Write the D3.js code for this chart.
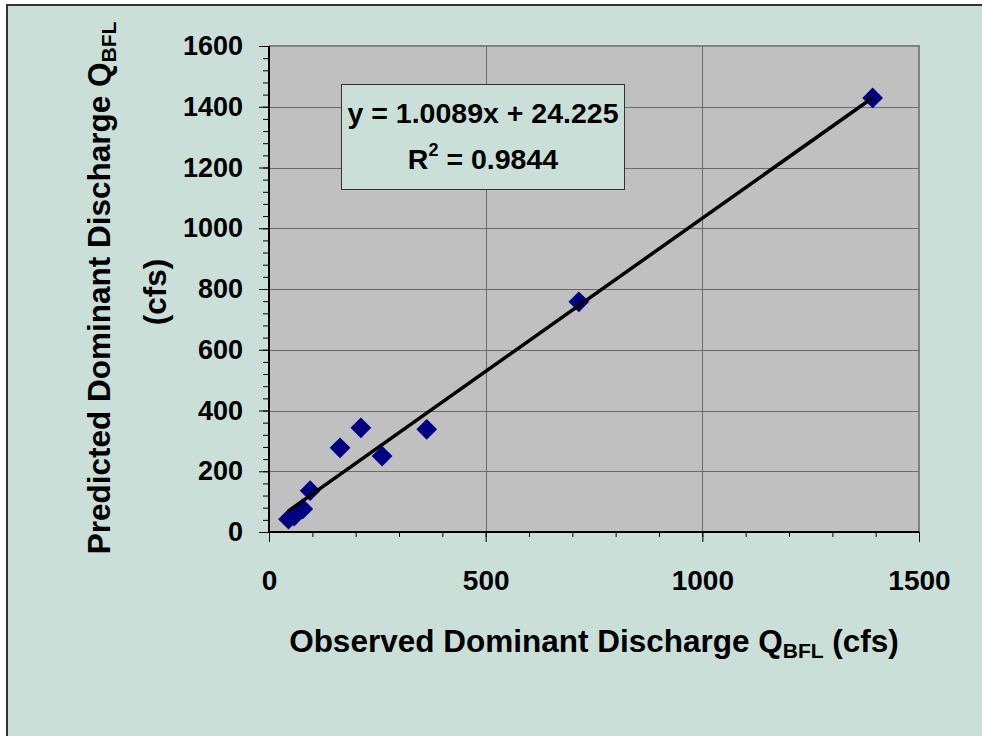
<!DOCTYPE html>
<html>
<head>
<meta charset="utf-8">
<script src="https://cdn.jsdelivr.net/npm/d3@7"></script>
<style>
  html, body { margin: 0; padding: 0; background: #fff; }
  svg { display: block; font-family: "Liberation Sans", Arial, sans-serif; }
</style>
</head>
<body>
<svg id="chart" width="982" height="736"></svg>
<script>
// Observed vs predicted dominant discharge (cfs)
const observed  = [45, 58, 78, 95, 164, 212, 261, 364, 715, 1393];
const predicted = [42, 52, 76, 136, 277, 343, 250, 338, 758, 1429];

// Fitted trend line
const slope = 1.0089;
const intercept = 24.225;
const equationText = "y = 1.0089x + 24.225";
const r2Text = "0.9844";

const xTicks = [0, 500, 1000, 1500];
const yTicks = [0, 200, 400, 600, 800, 1000, 1200, 1400, 1600];

const FONT = "Liberation Sans, Arial, sans-serif";
const svg = d3.select("#chart");

// Chart background with frame
svg.append("rect")
  .attr("x", 7).attr("y", 5).attr("width", 990).attr("height", 745)
  .attr("fill", "#c9dfd7").attr("stroke", "#333").attr("stroke-width", 2);

const plot = { left: 269, top: 46, right: 919, bottom: 532 };

const x = d3.scaleLinear().domain([0, 1500]).range([plot.left, plot.right]);
const y = d3.scaleLinear().domain([0, 1600]).range([plot.bottom, plot.top]);

// Plot area
svg.append("rect")
  .attr("x", plot.left).attr("y", plot.top)
  .attr("width", plot.right - plot.left).attr("height", plot.bottom - plot.top)
  .attr("fill", "#c0c0c0");

// Gridlines
const grid = svg.append("g").attr("stroke", "#6a6a6a").attr("stroke-width", 1);
grid.selectAll("line.gy").data(yTicks.slice(1, -1)).join("line")
  .attr("x1", plot.left).attr("x2", plot.right)
  .attr("y1", d => Math.round(y(d)) + 0.5).attr("y2", d => Math.round(y(d)) + 0.5);
grid.selectAll("line.gx").data(xTicks.slice(1, -1)).join("line")
  .attr("y1", plot.top).attr("y2", plot.bottom)
  .attr("x1", d => Math.round(x(d)) + 0.5).attr("x2", d => Math.round(x(d)) + 0.5);

// Top and right border
svg.append("path")
  .attr("d", `M${plot.left},${plot.top}H${plot.right}V${plot.bottom}`)
  .attr("fill", "none").attr("stroke", "#808080").attr("stroke-width", 2);

// Minor ticks
const minorX = d3.range(0, 1501, 100);
const minorY = d3.range(0, 1601, 40);
const fmt = d3.format("d");

const xAxis = svg.append("g").attr("transform", `translate(0,${plot.bottom})`);
xAxis.call(d3.axisBottom(x).tickValues(minorX).tickSize(5).tickFormat(""))
  .call(g => g.select(".domain").remove())
  .call(g => g.selectAll("line").attr("stroke", "#000"));
xAxis.append("g")
  .call(d3.axisBottom(x).tickValues(xTicks).tickSize(10).tickPadding(28).tickFormat(fmt))
  .call(g => g.select(".domain").remove())
  .call(g => g.selectAll("line").attr("stroke", "#000"))
  .call(g => g.selectAll("text")
    .attr("fill", "#000").attr("font-size", 28).attr("font-weight", "bold")
    .attr("font-family", FONT));

const yAxis = svg.append("g").attr("transform", `translate(${plot.left},0)`);
yAxis.call(d3.axisLeft(y).tickValues(minorY).tickSize(6).tickFormat(""))
  .call(g => g.select(".domain").remove())
  .call(g => g.selectAll("line").attr("stroke", "#000"));
yAxis.append("g")
  .call(d3.axisLeft(y).tickValues(yTicks).tickSize(10).tickPadding(16).tickFormat(fmt))
  .call(g => g.select(".domain").remove())
  .call(g => g.selectAll("line").attr("stroke", "#000"))
  .call(g => g.selectAll("text")
    .attr("fill", "#000").attr("font-size", 27).attr("font-weight", "bold")
    .attr("font-family", FONT));

// Left and bottom axis lines
svg.append("path")
  .attr("d", `M${plot.left},${plot.top}V${plot.bottom}H${plot.right}`)
  .attr("fill", "none").attr("stroke", "#000").attr("stroke-width", 2);

// Data markers (diamonds)
const diamond = d3.symbol().type(d3.symbolSquare).size(215);
svg.append("g").selectAll("path").data(observed.map((v, i) => [v, predicted[i]])).join("path")
  .attr("d", diamond)
  .attr("transform", d => `translate(${x(d[0])},${y(d[1])}) rotate(45)`)
  .attr("fill", "#000080");

// Trend line across the observed range
const [xMin, xMax] = d3.extent(observed);
svg.append("line")
  .attr("x1", x(xMin)).attr("y1", y(slope * xMin + intercept))
  .attr("x2", x(xMax)).attr("y2", y(slope * xMax + intercept))
  .attr("stroke", "#000").attr("stroke-width", 3.5);

// Equation box
const box = svg.append("g");
box.append("rect")
  .attr("x", 341.5).attr("y", 84.5).attr("width", 283).attr("height", 105)
  .attr("fill", "#c9dfd7").attr("stroke", "#333").attr("stroke-width", 1);
box.append("text")
  .attr("x", 483).attr("y", 123).attr("text-anchor", "middle")
  .attr("font-size", 28.5).attr("font-weight", "bold").text(equationText);
const r2 = box.append("text")
  .attr("x", 483).attr("y", 169).attr("text-anchor", "middle")
  .attr("font-size", 28.5).attr("font-weight", "bold");
r2.append("tspan").text("R");
r2.append("tspan").attr("dy", -13).attr("font-size", 18).text("2");
r2.append("tspan").attr("dy", 13).text(" = " + r2Text);

// Axis titles
const xTitle = svg.append("text")
  .attr("x", 594).attr("y", 652).attr("text-anchor", "middle")
  .attr("font-size", 31.5).attr("font-weight", "bold");
xTitle.append("tspan").text("Observed Dominant Discharge Q");
xTitle.append("tspan").attr("dy", 6).attr("font-size", 21).text("BFL");
xTitle.append("tspan").attr("dy", -6).text(" (cfs)");

const yTitle = svg.append("text")
  .attr("transform", "translate(110,288) rotate(-90)")
  .attr("text-anchor", "middle")
  .attr("font-size", 31.5).attr("font-weight", "bold");
yTitle.append("tspan").text("Predicted Dominant Discharge Q");
yTitle.append("tspan").attr("dy", 6).attr("font-size", 21).text("BFL");

svg.append("text")
  .attr("transform", "translate(166,292) rotate(-90)")
  .attr("text-anchor", "middle")
  .attr("font-size", 31.5).attr("font-weight", "bold")
  .text("(cfs)");
</script>
</body>
</html>
